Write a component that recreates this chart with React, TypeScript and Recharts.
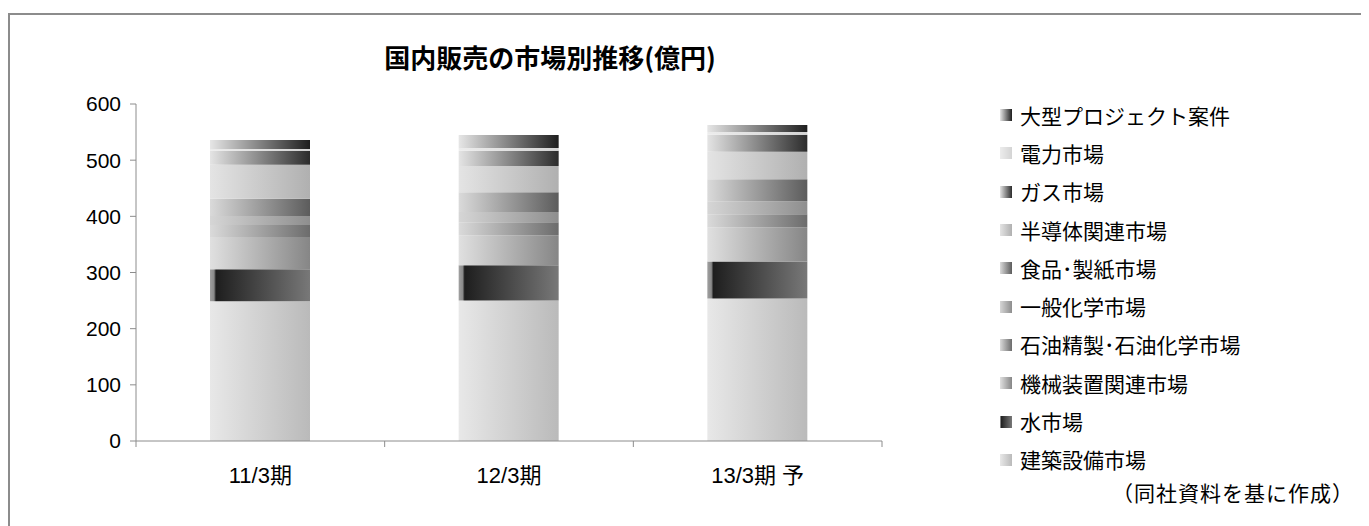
import { BarChart, Bar, XAxis, YAxis } from "recharts";

// 国内販売の市場別推移（億円） - values
const categories = ["11/3期", "12/3期", "13/3期 予"];
const kenchiku = [249, 250, 253.6]; // 建築設備市場
const mizu = [56.6, 63, 66]; // 水市場
const kikai = [57.6, 53.1, 60.8]; // 機械装置関連市場
const sekiyu = [21.5, 23.2, 23.2]; // 石油精製・石油化学市場
const ippan = [16, 18.4, 23.2]; // 一般化学市場
const shokuhin = [30.4, 35.2, 39.3]; // 食品・製紙市場
const handotai = [60.7, 46.5, 48.7]; // 半導体関連市場
const gas = [25, 27.4, 30.4]; // ガス市場
const denryoku = [3, 4.8, 4.8]; // 電力市場
const ogata = [16, 23.2, 12.5]; // 大型プロジェクト案件
const yTicks = [0, 100, 200, 300, 400, 500, 600];

// bottom to top stack order
const series = [
  { key: "kenchiku", name: "建築設備市場", values: kenchiku, stops: [[0, "#e8e8e8"], [1, "#bababa"]] },
  { key: "mizu", name: "水市場", values: mizu, stops: [[0, "#a0a0a0"], [0.04, "#8a8a8a"], [0.06, "#1e1e1e"], [1, "#787878"]] },
  { key: "kikai", name: "機械装置関連市場", values: kikai, stops: [[0, "#e0e0e0"], [1, "#868686"]] },
  { key: "sekiyu", name: "石油精製･石油化学市場", values: sekiyu, stops: [[0, "#dadada"], [1, "#6c6c6c"]] },
  { key: "ippan", name: "一般化学市場", values: ippan, stops: [[0, "#d6d6d6"], [1, "#8e8e8e"]] },
  { key: "shokuhin", name: "食品･製紙市場", values: shokuhin, stops: [[0, "#dadada"], [1, "#5c5c5c"]] },
  { key: "handotai", name: "半導体関連市場", values: handotai, stops: [[0, "#e4e4e4"], [1, "#b0b0b0"]] },
  { key: "gas", name: "ガス市場", values: gas, stops: [[0, "#e4e4e4"], [1, "#2c2c2c"]] },
  { key: "denryoku", name: "電力市場", values: denryoku, stops: [[0, "#ececec"], [1, "#d4d4d4"]] },
  { key: "ogata", name: "大型プロジェクト案件", values: ogata, stops: [[0, "#e6e6e6"], [1, "#1e1e1e"]] },
] as const;

const data = categories.map((c, i) => {
  const row: Record<string, string | number> = { name: c };
  series.forEach((s) => (row[s.key] = s.values[i]));
  return row;
});

const FONT = "'Liberation Sans', Arial, 'Noto Sans CJK JP', sans-serif";
const JP = "'Noto Sans CJK JP', sans-serif";
const AXIS = "#8c8c8c";

const CategoryTick = (props: any) => {
  const { x, y, payload, index, visibleTicksCount } = props;
  const half = payload?.offset || 124.3;
  const axisY = y - 27;
  return (
    <g>
      <line x1={x - half} x2={x - half} y1={axisY} y2={axisY + 6} stroke={AXIS} />
      {index === visibleTicksCount - 1 && (
        <line x1={x + half} x2={x + half} y1={axisY} y2={axisY + 6} stroke={AXIS} />
      )}
      <text x={x} y={y} dy="0.66em" textAnchor="middle" fontSize={22} fontFamily={FONT} fill="#000">
        {payload.value}
      </text>
    </g>
  );
};

const gradCss = (stops: readonly (readonly [number, string])[]) =>
  `linear-gradient(to right, ${stops.map(([o, c]) => `${c} ${o * 100}%`).join(", ")})`;

const App = () => {
  return (
    <div
      style={{
        position: "relative",
        top: 5,
        width: 1358,
        height: 530,
        border: `2px solid ${AXIS}`,
        boxSizing: "border-box",
        fontFamily: FONT,
        background: "#fff",
      }}
    >
      <div
        style={{
          position: "absolute",
          left: 0,
          width: 1080,
          top: 23,
          textAlign: "center",
          fontSize: 26,
          fontWeight: "bold",
          fontFamily: JP,
          color: "#000",
        }}
      >
        国内販売の市場別推移(億円)
      </div>
      <div style={{ position: "absolute", left: 0, top: 0 }}>
        <BarChart
          width={1340}
          height={500}
          data={data}
          margin={{ top: 89, right: 468, bottom: 44, left: 66 }}
        >
          <defs>
            {series.map((s) => (
              <linearGradient key={s.key} id={`g-${s.key}`} x1="0" y1="0" x2="1" y2="0">
                {s.stops.map(([o, c], j) => (
                  <stop key={j} offset={o} stopColor={c} />
                ))}
              </linearGradient>
            ))}
          </defs>
          <XAxis
            dataKey="name"
            height={30}
            stroke={AXIS}
            tickLine={false}
            tickSize={0}
            tickMargin={27}
            tick={<CategoryTick />}
            interval={0}
          />
          <YAxis
            width={60}
            domain={[0, 600]}
            ticks={yTicks}
            stroke={AXIS}
            tickSize={6}
            tickMargin={9}
            tick={{ fill: "#000", fontSize: 21, fontFamily: FONT }}
          />
          {series.map((s) => (
            <Bar
              key={s.key}
              dataKey={s.key}
              name={s.name}
              stackId="a"
              barSize={100}
              fill={`url(#g-${s.key})`}
              isAnimationActive={false}
            />
          ))}
        </BarChart>
      </div>
      <div style={{ position: "absolute", left: 990, top: 81 }}>
        {[...series].reverse().map((s) => (
          <div key={s.key} style={{ height: 38.3, display: "flex", alignItems: "center" }}>
            <div style={{ width: 12, height: 12, background: gradCss(s.stops), marginRight: 8 }} />
            <span style={{ fontSize: 21, fontWeight: 400, fontFamily: JP, color: "#000", lineHeight: 1 }}>
              {s.name}
            </span>
          </div>
        ))}
      </div>
      <div
        style={{
          position: "absolute",
          right: 10,
          top: 462,
          fontSize: 21,
          letterSpacing: 1,
          fontFamily: JP,
          color: "#000",
        }}
      >
        （同社資料を基に作成）
      </div>
    </div>
  );
};

export default App;
